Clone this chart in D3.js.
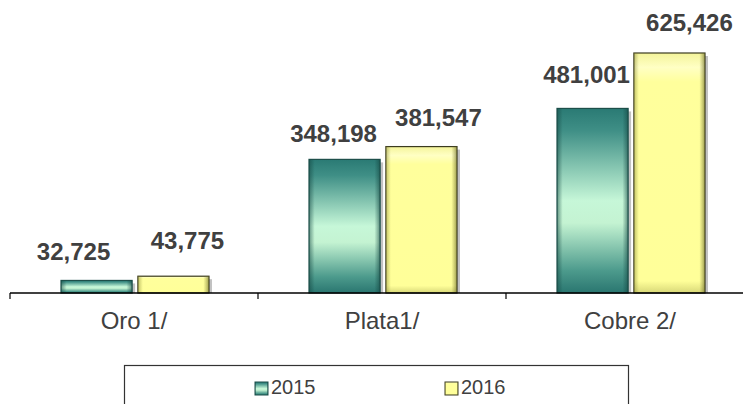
<!DOCTYPE html>
<html>
<head>
<meta charset="utf-8">
<title>Produccion</title>
<script src="https://d3js.org/d3.v7.min.js"></script>
<style>
  body { margin: 0; background: #fff; }
  svg { display: block; font-family: "Liberation Sans", Arial, sans-serif; }
</style>
</head>
<body>
<svg width="743" height="404" id="mainsvg"></svg>
<script>
const categories = ['Oro 1/', 'Plata1/', 'Cobre 2/'];
const years = ['2015', '2016'];
const values2015 = [32725, 348198, 481001];
const values2016 = [43775, 381547, 625426];
const labels2015 = ['32,725', '348,198', '481,001'];
const labels2016 = ['43,775', '381,547', '625,426'];

// hand nudges for the value labels (as placed in the original)
const nudge2015 = [[-23, -20], [-11, -17], [-6, -25]];
const nudge2016 = [[14, -27], [17, -21], [20, -22]];

const font = '"Liberation Sans", Arial, sans-serif';
const svg = d3.select('#mainsvg');
const baseY = 293;

const x0 = d3.scaleBand().domain(categories).range([10, 10 + 248 * 3]).paddingInner(0);
const x1 = d3.scaleBand().domain(years)
  .range([x0.bandwidth() / 2 - 73, x0.bandwidth() / 2 + 75]).paddingInner(0.075);
const y = d3.scaleLinear().domain([0, 625426]).range([baseY, 53]);

const defs = svg.append('defs');
const teal = defs.append('linearGradient').attr('id', 'teal').attr('x1', 0).attr('y1', 0).attr('x2', 0).attr('y2', 1);
[[0, '#2a7a74'], [0.12, '#3f8f86'], [0.5, '#c6f7d8'], [0.62, '#c4f3d2'], [0.88, '#4c9a8c'], [1, '#2a7670']]
  .forEach(s => teal.append('stop').attr('offset', s[0]).attr('stop-color', s[1]));
const tealSide = defs.append('linearGradient').attr('id', 'tealSide').attr('x1', 0).attr('y1', 0).attr('x2', 1).attr('y2', 0);
[[0, 'rgba(20,70,65,0.55)'], [0.08, 'rgba(20,70,65,0)'], [0.92, 'rgba(20,70,65,0)'], [1, 'rgba(20,70,65,0.6)']]
  .forEach(s => tealSide.append('stop').attr('offset', s[0]).attr('stop-color', s[1]));
const yel = defs.append('linearGradient').attr('id', 'yel').attr('x1', 0).attr('y1', 0).attr('x2', 0).attr('y2', 1);
[[0, '#f4f49a'], [0.06, '#ffffc4'], [0.12, '#ffff9c'], [0.95, '#ffff99'], [1, '#d8d878']]
  .forEach(s => yel.append('stop').attr('offset', s[0]).attr('stop-color', s[1]));
const yelSide = defs.append('linearGradient').attr('id', 'yelSide').attr('x1', 0).attr('y1', 0).attr('x2', 1).attr('y2', 0);
[[0, 'rgba(120,120,40,0.45)'], [0.07, 'rgba(120,120,40,0)'], [0.92, 'rgba(120,120,40,0)'], [1, 'rgba(90,90,30,0.6)']]
  .forEach(s => yelSide.append('stop').attr('offset', s[0]).attr('stop-color', s[1]));

const series = [
  { year: '2015', values: values2015, labels: labels2015, nudge: nudge2015, fill: 'url(#teal)', side: 'url(#tealSide)', stroke: '#1d4f4a' },
  { year: '2016', values: values2016, labels: labels2016, nudge: nudge2016, fill: 'url(#yel)', side: 'url(#yelSide)', stroke: '#3b3b20' }
];

const groups = svg.selectAll('g.cat').data(categories).join('g')
  .attr('class', 'cat')
  .attr('transform', d => `translate(${x0(d)},0)`);

series.forEach(s => {
  groups.each(function (cat, i) {
    const g = d3.select(this);
    const bx = x1(s.year), bw = x1.bandwidth();
    const top = y(s.values[i]), h = baseY - top;
    // shadow
    g.append('rect').attr('x', bx + 3).attr('y', top + 3).attr('width', bw).attr('height', h - 3)
      .attr('fill', '#777').attr('opacity', 0.45);
    g.append('rect').attr('x', bx).attr('y', top).attr('width', bw).attr('height', h)
      .attr('fill', s.fill).attr('stroke', s.stroke).attr('stroke-width', 1.2);
    g.append('rect').attr('x', bx).attr('y', top).attr('width', bw).attr('height', h)
      .attr('fill', s.side);
    g.append('text')
      .attr('x', bx + bw / 2 + s.nudge[i][0])
      .attr('y', top + s.nudge[i][1])
      .attr('text-anchor', 'middle')
      .attr('font-family', font)
      .attr('font-size', 24).attr('font-weight', 'bold').attr('fill', '#404040')
      .text(s.labels[i]);
  });
});

// axis
const axis = d3.axisBottom(x0).tickSize(0).tickPadding(0);
const ax = svg.append('g').attr('transform', `translate(0,${baseY})`).call(axis);
ax.select('.domain').remove();
ax.selectAll('.tick text').attr('dy', 0).attr('y', 36)
  .attr('font-size', 24).attr('fill', '#404040').attr('font-family', font);
svg.append('line').attr('x1', 10).attr('x2', 743).attr('y1', baseY).attr('y2', baseY)
  .attr('stroke', '#000').attr('stroke-width', 1.6);
svg.selectAll('line.sep').data(categories).join('line')
  .attr('class', 'sep')
  .attr('x1', d => x0(d)).attr('x2', d => x0(d))
  .attr('y1', baseY).attr('y2', baseY + 6)
  .attr('stroke', '#000').attr('stroke-width', 1.2);

// legend
const lg = svg.append('g');
lg.append('rect').attr('x', 124.5).attr('y', 365.5).attr('width', 504).attr('height', 60)
  .attr('fill', '#fff').attr('stroke', '#333').attr('stroke-width', 1.2);
const legendX = d3.scaleOrdinal().domain(years).range([255, 445]);
series.forEach(s => {
  const lx = legendX(s.year);
  lg.append('rect').attr('x', lx).attr('y', 382).attr('width', 13).attr('height', 13)
    .attr('fill', s.fill).attr('stroke', s.stroke).attr('stroke-width', 1);
  lg.append('rect').attr('x', lx).attr('y', 382).attr('width', 13).attr('height', 13)
    .attr('fill', s.side);
  lg.append('text').attr('x', lx + 16).attr('y', 394).attr('font-family', font)
    .attr('font-size', 20).attr('fill', '#404040')
    .text(s.year);
});
</script>
</body>
</html>
